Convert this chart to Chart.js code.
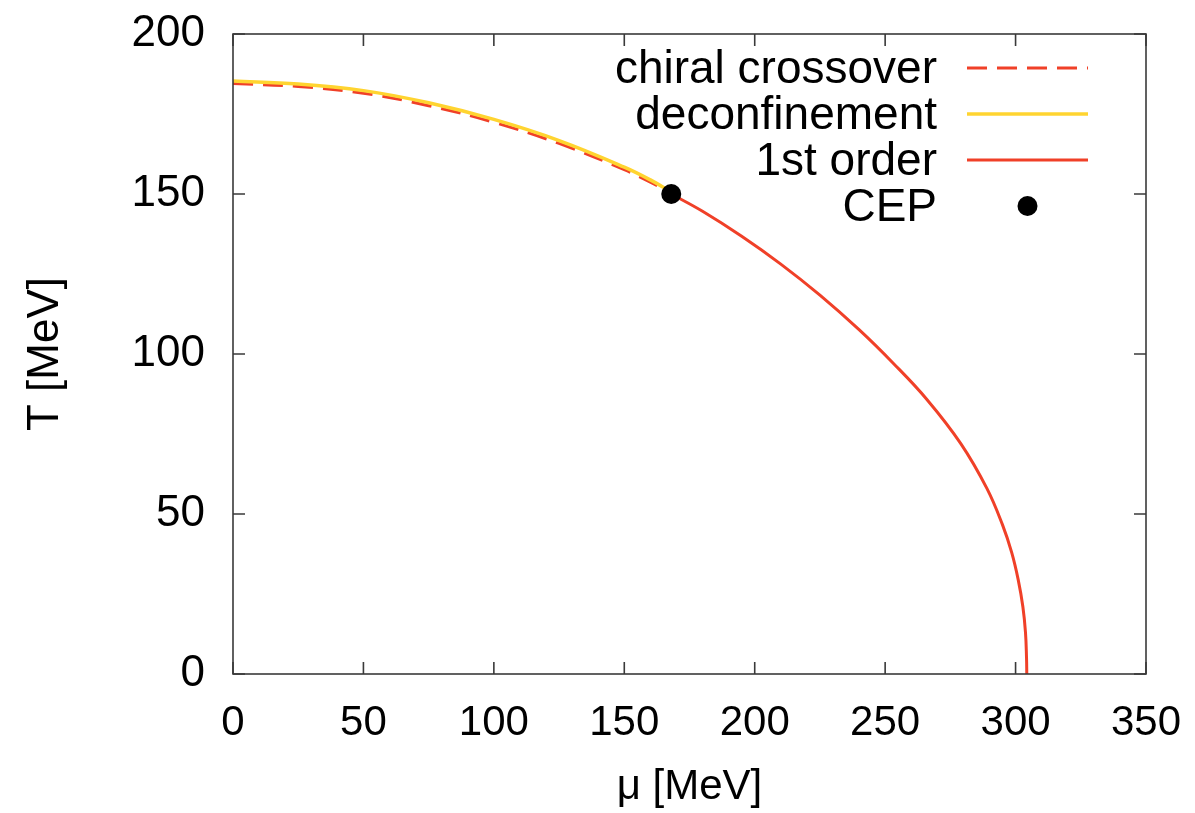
<!DOCTYPE html>
<html>
<head>
<meta charset="utf-8">
<script src="https://cdn.jsdelivr.net/npm/chart.js@4/dist/chart.umd.min.js"></script>
<style>
  html, body { margin: 0; padding: 0; background: #fff; }
  #wrap { width: 1195px; height: 813px; }
</style>
</head>
<body>
<div id="wrap"><canvas id="phase" width="1195" height="813"></canvas></div>
<script>
// crossover region, mu in MeV
const crossMu = [0, 25, 50, 75, 100, 125, 150, 160, 168];
const chiralT = [184.5, 183.6, 181.5, 177.6, 172.4, 165.8, 157.6, 153.7, 150.3];
const deconfT = [185.3, 184.4, 182.3, 178.5, 173.3, 166.7, 158.4, 154.4, 150.6];

// first order line from the CEP down to T = 0
const firstMu = [168, 180, 195, 210, 225, 240, 253, 266, 279, 289, 295, 298.5, 301, 302.8, 303.8, 304.2, 304.3];
const firstT  = [150, 144.6, 136.8, 128.1, 118.4, 107.6, 97.2, 85.8, 72, 58, 46.6, 38, 29.5, 21, 13, 5, 0];

// critical end point
const cepMu = [168];
const cepT  = [150];

const xTicks = [0, 50, 100, 150, 200, 250, 300, 350];
const yTicks = [0, 50, 100, 150, 200];

const RED = 'rgb(240,64,40)';
const YELLOW = 'rgb(255,212,48)';
const AXIS = '#3a3a3a';
const FONT = '"Liberation Sans", Arial, Helvetica, sans-serif';

const pts = (xs, ys) => xs.map((x, i) => ({ x: x, y: ys[i] }));

// gnuplot style box with inward ticks on all four sides
const framePlugin = {
  id: 'frame',
  afterDatasetsDraw(chart) {
    const { ctx, chartArea: a, scales } = chart;
    const len = 12;
    ctx.save();
    ctx.strokeStyle = AXIS;
    ctx.lineWidth = 1.6;
    ctx.strokeRect(a.left, a.top, a.right - a.left, a.bottom - a.top);
    ctx.beginPath();
    xTicks.forEach(v => {
      const px = scales.x.getPixelForValue(v);
      ctx.moveTo(px, a.bottom); ctx.lineTo(px, a.bottom - len);
      ctx.moveTo(px, a.top); ctx.lineTo(px, a.top + len);
    });
    yTicks.forEach(v => {
      const py = scales.y.getPixelForValue(v);
      ctx.moveTo(a.left, py); ctx.lineTo(a.left + len, py);
      ctx.moveTo(a.right, py); ctx.lineTo(a.right - len, py);
    });
    ctx.stroke();
    ctx.restore();
  }
};

// legend with right aligned text and sample to the right, like gnuplot
const keyPlugin = {
  id: 'key',
  afterDraw(chart) {
    const { ctx, chartArea: a } = chart;
    const textRight = a.right - 209;
    const x0 = a.right - 179, x1 = a.right - 58;
    ctx.save();
    ctx.font = '46px ' + FONT;
    ctx.textAlign = 'right';
    ctx.textBaseline = 'middle';
    chart.data.datasets.forEach((ds, i) => {
      const y = a.top + 34 + i * 46;
      ctx.fillStyle = '#000';
      ctx.fillText(ds.label, textRight, y + 2);
      if (ds.showLine) {
        ctx.strokeStyle = ds.borderColor;
        ctx.lineWidth = ds.borderWidth;
        ctx.setLineDash(ds.borderDash || []);
        ctx.beginPath();
        ctx.moveTo(x0, y); ctx.lineTo(x1, y);
        ctx.stroke();
        ctx.setLineDash([]);
      } else {
        ctx.fillStyle = ds.backgroundColor;
        ctx.beginPath();
        ctx.arc((x0 + x1) / 2, y, ds.pointRadius, 0, Math.PI * 2);
        ctx.fill();
      }
    });
    ctx.restore();
  }
};

new Chart(document.getElementById('phase'), {
  type: 'scatter',
  data: {
    datasets: [
      {
        label: 'chiral crossover',
        data: pts(crossMu, chiralT),
        showLine: true, borderColor: RED, borderWidth: 3, borderDash: [20, 10],
        pointRadius: 0, tension: 0.4, order: 3
      },
      {
        label: 'deconfinement',
        data: pts(crossMu, deconfT),
        showLine: true, borderColor: YELLOW, borderWidth: 3.5,
        pointRadius: 0, tension: 0.4, order: 2
      },
      {
        label: '1st order',
        data: pts(firstMu, firstT),
        showLine: true, borderColor: RED, borderWidth: 3,
        pointRadius: 0, tension: 0.4, order: 1
      },
      {
        label: 'CEP',
        data: pts(cepMu, cepT),
        showLine: false, backgroundColor: '#000', borderColor: '#000',
        pointRadius: 10, pointBorderWidth: 0, order: 0
      }
    ]
  },
  options: {
    responsive: false,
    animation: false,
    layout: { padding: { left: 0, right: 49, top: 34, bottom: 0 } },
    plugins: { legend: { display: false }, tooltip: { enabled: false } },
    scales: {
      x: {
        type: 'linear', min: 0, max: 350,
        afterBuildTicks: s => { s.ticks = xTicks.map(v => ({ value: v })); },
        afterFit: s => { s.height = 139; s.paddingLeft = 0; s.paddingRight = 0; },
        grid: { display: false, drawTicks: false },
        border: { display: false },
        ticks: { color: '#000', padding: 24, font: { family: FONT, size: 42 } },
        title: {
          display: true, text: 'μ [MeV]', color: '#000',
          font: { family: FONT, size: 42, lineHeight: 1.2 }, padding: { top: 10, bottom: 0 }
        }
      },
      y: {
        type: 'linear', min: 0, max: 200,
        afterBuildTicks: s => { s.ticks = yTicks.map(v => ({ value: v })); },
        afterFit: s => { s.width = 233; s.paddingTop = 0; s.paddingBottom = 0; },
        grid: { display: false, drawTicks: false },
        border: { display: false },
        ticks: { color: '#000', padding: 28, font: { family: FONT, size: 44 } },
        title: {
          display: true, text: 'T [MeV]', color: '#000',
          font: { family: FONT, size: 44, lineHeight: 1.2 }, padding: { top: 19, bottom: 0 }
        }
      }
    }
  },
  plugins: [framePlugin, keyPlugin]
});
</script>
</body>
</html>
